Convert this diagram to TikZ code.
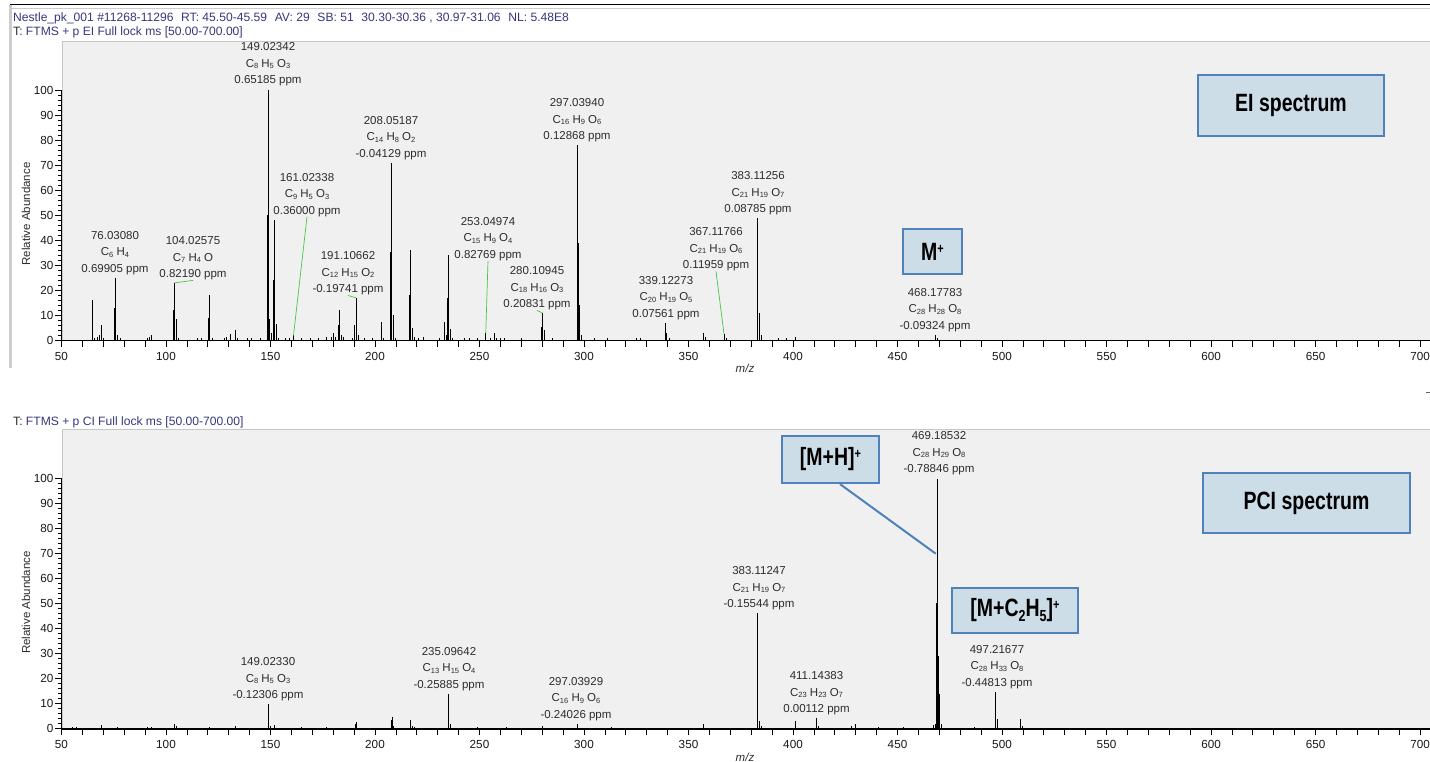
\documentclass[tikz,border=0pt]{standalone}
\usepackage{fontspec}
\setmainfont{Liberation Sans}
\usepackage{graphicx}
\definecolor{plotbg}{RGB}{240,240,240}
\definecolor{plotedge}{RGB}{198,198,198}
\definecolor{framegray}{RGB}{205,205,205}
\definecolor{hdrblue}{RGB}{55,55,125}
\definecolor{labgray}{RGB}{45,45,45}
\definecolor{leadgreen}{RGB}{70,200,70}
\definecolor{boxblue}{RGB}{79,129,189}
\definecolor{boxfill}{RGB}{205,221,232}
\newcommand\sbx[1]{\raisebox{-1.2pt}{\fontsize{7.5}{8}\selectfont #1}}
\newcommand\bsb[1]{\raisebox{-5pt}{\fontsize{16}{17}\selectfont #1}}
\newcommand\bsp[1]{\raisebox{7pt}{\fontsize{14}{15}\selectfont #1}}
\newcommand\boxtxt[1]{\scalebox{0.78}[1]{\fontsize{25}{26}\selectfont\bfseries #1}}
\newcommand\hgap{\hspace*{7.7pt}}
\begin{document}
\begin{tikzpicture}[x=1pt,y=-1pt,
  pk/.style={align=center,inner sep=0pt,font=\fontsize{11.5}{16.5}\selectfont,text=labgray},
  hdr/.style={anchor=west,inner sep=0pt,font=\fontsize{12.1}{13}\selectfont,text=hdrblue},
  xtl/.style={inner sep=0pt,yshift=-15.5pt,font=\fontsize{11.7}{13}\selectfont,text=black!90},
  ytl/.style={inner sep=0pt,anchor=east,xshift=-8pt,font=\fontsize{11.7}{13}\selectfont,text=black!90},
  ylab/.style={inner sep=0pt,rotate=90,font=\fontsize{11.5}{13}\selectfont,text=labgray},
  mzlab/.style={inner sep=0pt,font=\fontsize{11.5}{13}\selectfont\itshape,text=labgray},
  peakline/.style={line width=0.9pt,black},
  axisline/.style={line width=1.6pt,black},
  tickline/.style={line width=0.8pt,black},
  leader/.style={leadgreen,line width=0.7pt},
  labbox/.style={draw=boxblue,line width=2.2pt,fill=boxfill,inner sep=0pt},
  callout/.style={boxblue,line width=2pt}]
\useasboundingbox (0,0) rectangle (1430,762);
\fill[white] (0,0) rectangle (1430,762);
% window frame
\draw[black,line width=1.3pt] (10,4.5) -- (1430,4.5);
\draw[framegray,line width=1pt] (12,8.5) -- (1430,8.5);
\draw[framegray,line width=3pt] (10,5) -- (10,368);
\draw[black!60,line width=0.8pt] (1426,392) -- (1430,392);
% plot backgrounds
\fill[plotbg] (62,42) rectangle (1430,340.5);
\draw[plotedge,line width=1pt] (62,340.5) -- (62,42) -- (1430,42);
\fill[plotbg] (62,429) rectangle (1430,728.7);
\draw[plotedge,line width=1pt] (62,728.7) -- (62,429) -- (1430,429);
% headers
\node[hdr] (h1) at (13,18) {Nestle\_pk\_001 \#11268-11296\hgap RT: 45.50-45.59\hgap AV: 29\hgap SB: 51\hgap 30.30-30.36 , 30.97-31.06\hgap NL: 5.48E8};
\node[hdr] (h2) at (13,32) {\textcolor{labgray}{T:} FTMS + p EI Full lock ms [50.00-700.00]};
\node[hdr] (h3) at (13,422) {\textcolor{labgray}{T:} FTMS + p CI Full lock ms [50.00-700.00]};
% ================= EI spectrum =================
\begin{scope}[xshift=-43pt,yshift=-340.5pt,x=2.09pt,y=2.505pt]
  \foreach \m/\v in {64.8/8,65/16,66/1,67/1.5,68/2,69/6,70/1,75.5/13,76/25,77/2,78/1,91/1,92/1.5,93/2,
    103.5/12,104/23,105/8.5,106/1,115/1,117/1,120.5/9,121/18,122/1,128/1,129/1.5,131/2.5,133/4,134/1,
    139/1,141/1,145/1,148.5/3,148.7/50,149/100,149.6/8.5,150.5/3,151.6/24,152/48,153/6.5,154/1,157/1,
    159/1,161/2,165/1,169/1,173/1,177/1.5,179/1.5,180/3,181/1.5,182.6/6,183/12,184/2,185/1.5,189/1,
    190.3/6,191/17,192/2,195/1,199/1,203/7.3,204/1,207.6/35.5,208/71,209/10,210/1,216.6/18,217/36,
    218/5,219/1.5,221/1,223/1.5,231/1,233/7.5,234/2,234.6/17,235/34,236/4.5,237/1,243/1,245/1,249/1,
    253/3,255/1,257/3,258/1,260/1,262/1,270/1,279.5/5.5,280/11,281/4,285/1,297/78,297.3/39,298/14,
    299/2,305/1,311/1,325/1,327/1,339/7,339.4/3,341/1,357/3,358/1.5,367/2.5,368/1,382.8/24.4,383/49,
    384/11,385/2,393/1,397/1,401/1.5,468/2,469/1}
    {\draw[peakline] (\m,0) -- (\m,\v);}
  \coordinate (p104) at (104,23);
  \coordinate (p161) at (161,2);
  \coordinate (p191) at (191,17);
  \coordinate (p253) at (253,3);
  \coordinate (p280) at (280,11);
  \coordinate (p367) at (367,2.5);
  % axes
  \draw[axisline] (50,0) -- (704.8,0);
  \draw[line width=1.2pt] (50,0) -- (50,100);
  \foreach \v in {0,2,...,100} \draw[tickline] (50,\v) -- ++(-4pt,0pt);
  \foreach \v in {0,10,...,100} {\draw[tickline] (50,\v) -- ++(-7pt,0pt); \node[ytl] at (50,\v) {\v};}
  \foreach \m in {50,60,...,700} \draw[tickline] (\m,0) -- ++(0pt,-6pt);
  \foreach \m in {50,100,...,700} \node[xtl] at (\m,0) {\m};
\end{scope}
\node[ylab] (ya1) at (26,214) {Relative Abundance};
\node[mzlab] (mz1) at (745,368) {m/z};
% EI peak labels
\node[pk] (l149) at (268,64.5) {149.02342\\C\sbx{8} H\sbx{5} O\sbx{3}\\0.65185 ppm};
\node[pk] (l76) at (115,253) {76.03080\\C\sbx{6} H\sbx{4}\\0.69905 ppm};
\node[pk] (l104) at (193,258.5) {104.02575\\C\sbx{7} H\sbx{4} O\\0.82190 ppm};
\node[pk] (l161) at (307,195) {161.02338\\C\sbx{9} H\sbx{5} O\sbx{3}\\0.36000 ppm};
\node[pk] (l191) at (348,273.5) {191.10662\\C\sbx{12} H\sbx{15} O\sbx{2}\\-0.19741 ppm};
\node[pk] (l208) at (391,138) {208.05187\\C\sbx{14} H\sbx{8} O\sbx{2}\\-0.04129 ppm};
\node[pk] (l253) at (488,239) {253.04974\\C\sbx{15} H\sbx{9} O\sbx{4}\\0.82769 ppm};
\node[pk] (l280) at (537,288.5) {280.10945\\C\sbx{18} H\sbx{16} O\sbx{3}\\0.20831 ppm};
\node[pk] (l297) at (577,120.5) {297.03940\\C\sbx{16} H\sbx{9} O\sbx{6}\\0.12868 ppm};
\node[pk] (l339) at (666,298) {339.12273\\C\sbx{20} H\sbx{19} O\sbx{5}\\0.07561 ppm};
\node[pk] (l367) at (716,249.5) {367.11766\\C\sbx{21} H\sbx{19} O\sbx{6}\\0.11959 ppm};
\node[pk] (l383) at (758,193.5) {383.11256\\C\sbx{21} H\sbx{19} O\sbx{7}\\0.08785 ppm};
\node[pk] (l468) at (935,310) {468.17783\\C\sbx{28} H\sbx{28} O\sbx{8}\\-0.09324 ppm};
\draw[leader] (l104.south) -- (p104);
\draw[leader] (l161.south) -- (p161);
\draw[leader] (l191.south) -- (p191);
\draw[leader] (l253.south) -- (p253);
\draw[leader] (l280.south) -- (p280);
\draw[leader] (l367.south) -- (p367);
% EI boxes
\node[labbox,minimum width=186pt,minimum height=61pt] (ei) at (1291,105.5) {\boxtxt{EI spectrum}};
\node[labbox,minimum width=59pt,minimum height=45pt] (mplus) at (932.5,251.5) {\boxtxt{M\bsp{+}}};
% ================= PCI spectrum =================
\begin{scope}[xshift=-43pt,yshift=-728.7pt,x=2.09pt,y=2.5pt]
  \foreach \m/\v in {55/0.7,57/0.7,69/1.5,77/0.5,91/0.7,93/0.7,104/2,105/1,121/0.7,133/1,148.8/5,149/10,
    150/1,152/1.5,165/0.5,177/0.8,190.8/2,191/2.8,207.8/3.5,208.2/4.7,209/1,217/3.5,218/1,219/0.7,
    235/14,236/2,249/0.5,263/0.5,280/1,297/2,313/0.5,357/2,382.8/11,383/46.4,384/3,385/1,401/3,
    411/4.4,412/1,428/1,430/2,441/0.8,453/0.8,467/1.5,468/2,468.8/50.4,469/100,469.6/29,470/14,
    471/2,487/0.5,497/14.8,497.6/4,498/2,509/3.8,510/1}
    {\draw[peakline] (\m,0) -- (\m,\v);}
  \coordinate (mhtip) at (468.3,70);
  \draw[axisline] (50,0) -- (704.8,0);
  \draw[line width=1.2pt] (50,0) -- (50,100);
  \foreach \v in {0,2,...,100} \draw[tickline] (50,\v) -- ++(-4pt,0pt);
  \foreach \v in {0,10,...,100} {\draw[tickline] (50,\v) -- ++(-7pt,0pt); \node[ytl] at (50,\v) {\v};}
  \foreach \m in {50,60,...,700} \draw[tickline] (\m,0) -- ++(0pt,-6pt);
  \foreach \m in {50,100,...,700} \node[xtl] at (\m,0) {\m};
\end{scope}
\node[ylab] (ya2) at (26,602.5) {Relative Abundance};
\node[mzlab] (mz2) at (745,757) {m/z};
\node[pk] (c149) at (268,679.5) {149.02330\\C\sbx{8} H\sbx{5} O\sbx{3}\\-0.12306 ppm};
\node[pk] (c235) at (449,669) {235.09642\\C\sbx{13} H\sbx{15} O\sbx{4}\\-0.25885 ppm};
\node[pk] (c297) at (576,699) {297.03929\\C\sbx{16} H\sbx{9} O\sbx{6}\\-0.24026 ppm};
\node[pk] (c383) at (759,588.5) {383.11247\\C\sbx{21} H\sbx{19} O\sbx{7}\\-0.15544 ppm};
\node[pk] (c411) at (816.5,693.5) {411.14383\\C\sbx{23} H\sbx{23} O\sbx{7}\\0.00112 ppm};
\node[pk] (c469) at (939,453.5) {469.18532\\C\sbx{28} H\sbx{29} O\sbx{8}\\-0.78846 ppm};
\node[pk] (c497) at (997,667) {497.21677\\C\sbx{28} H\sbx{33} O\sbx{8}\\-0.44813 ppm};
% PCI boxes
\node[labbox,minimum width=207pt,minimum height=60pt] (pci) at (1306.5,503) {\boxtxt{PCI spectrum}};
\node[labbox,minimum width=97pt,minimum height=47pt] (mh) at (830.5,459.5) {\boxtxt{[M+H]\bsp{+}}};
\node[labbox,minimum width=126pt,minimum height=45pt] (mc) at (1015,610.5) {\boxtxt{[M+C\bsb{2}H\bsb{5}]\bsp{+}}};
\draw[callout] ([xshift=9.5pt]mh.south) -- (mhtip);
\end{tikzpicture}
\end{document}
